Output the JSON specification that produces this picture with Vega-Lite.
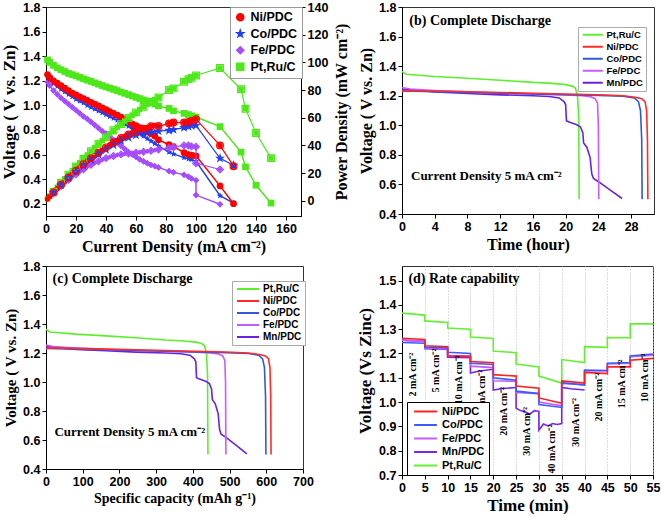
{
"$schema":"https://vega.github.io/schema/vega-lite/v6.json",
"padding":{"left":0,"top":0,"right":0,"bottom":0},
"background":"white",
"bounds":"flush",
"columns":2,
"spacing":{"row":50,"column":99},
"datasets":{
"pa":[
{"s":"Pt,Ru/C","I":1,"V":1.37,"P":1.4},{"s":"Pt,Ru/C","I":2.5,"V":1.35,"P":3.4},{"s":"Pt,Ru/C","I":5,"V":1.325,"P":6.6},{"s":"Pt,Ru/C","I":7.5,"V":1.305,"P":9.8},{"s":"Pt,Ru/C","I":10,"V":1.29,"P":12.9},{"s":"Pt,Ru/C","I":12.5,"V":1.275,"P":15.9},{"s":"Pt,Ru/C","I":15,"V":1.26,"P":18.9},{"s":"Pt,Ru/C","I":17.5,"V":1.25,"P":21.9},{"s":"Pt,Ru/C","I":20,"V":1.24,"P":24.8},{"s":"Pt,Ru/C","I":22.5,"V":1.228,"P":27.6},{"s":"Pt,Ru/C","I":25,"V":1.216,"P":30.4},{"s":"Pt,Ru/C","I":27.5,"V":1.205,"P":33.1},{"s":"Pt,Ru/C","I":30,"V":1.195,"P":35.9},{"s":"Pt,Ru/C","I":32.5,"V":1.183,"P":38.4},{"s":"Pt,Ru/C","I":35,"V":1.172,"P":41.0},{"s":"Pt,Ru/C","I":37.5,"V":1.161,"P":43.5},{"s":"Pt,Ru/C","I":40,"V":1.15,"P":46.0},{"s":"Pt,Ru/C","I":42.5,"V":1.14,"P":48.5},{"s":"Pt,Ru/C","I":45,"V":1.13,"P":50.9},{"s":"Pt,Ru/C","I":47.5,"V":1.12,"P":53.2},{"s":"Pt,Ru/C","I":50,"V":1.108,"P":55.4},{"s":"Pt,Ru/C","I":52.5,"V":1.098,"P":57.6},{"s":"Pt,Ru/C","I":55,"V":1.087,"P":59.8},{"s":"Pt,Ru/C","I":57.5,"V":1.076,"P":61.9},{"s":"Pt,Ru/C","I":60,"V":1.065,"P":63.9},{"s":"Pt,Ru/C","I":62.5,"V":1.055,"P":65.9},{"s":"Pt,Ru/C","I":65,"V":1.044,"P":67.9},{"s":"Pt,Ru/C","I":67.5,"V":1.033,"P":69.7},{"s":"Pt,Ru/C","I":70,"V":1.022,"P":71.5},{"s":"Pt,Ru/C","I":72.5,"V":1.01,"P":73.2},{"s":"Pt,Ru/C","I":75,"V":0.995,"P":74.6},{"s":"Pt,Ru/C","I":82,"V":0.975,"P":80.0},{"s":"Pt,Ru/C","I":85,"V":0.955,"P":81.2},{"s":"Pt,Ru/C","I":92,"V":0.935,"P":86.0},{"s":"Pt,Ru/C","I":95,"V":0.925,"P":87.9},{"s":"Pt,Ru/C","I":97,"V":0.915,"P":88.8},{"s":"Pt,Ru/C","I":100,"V":0.905,"P":90.5},{"s":"Pt,Ru/C","I":116,"V":0.827,"P":95.9},{"s":"Pt,Ru/C","I":130,"V":0.62,"P":80.6},{"s":"Pt,Ru/C","I":133,"V":0.5,"P":66.5},{"s":"Pt,Ru/C","I":140,"V":0.35,"P":49.0},{"s":"Pt,Ru/C","I":150,"V":0.205,"P":30.8},
{"s":"Fe/PDC","I":1,"V":1.19,"P":1.2},{"s":"Fe/PDC","I":2.5,"V":1.16,"P":2.9},{"s":"Fe/PDC","I":5,"V":1.12,"P":5.6},{"s":"Fe/PDC","I":7.5,"V":1.09,"P":8.2},{"s":"Fe/PDC","I":10,"V":1.06,"P":10.6},{"s":"Fe/PDC","I":12.5,"V":1.035,"P":12.9},{"s":"Fe/PDC","I":15,"V":1.01,"P":15.2},{"s":"Fe/PDC","I":17.5,"V":0.985,"P":17.2},{"s":"Fe/PDC","I":20,"V":0.96,"P":19.2},{"s":"Fe/PDC","I":22.5,"V":0.935,"P":21.0},{"s":"Fe/PDC","I":25,"V":0.91,"P":22.8},{"s":"Fe/PDC","I":27.5,"V":0.89,"P":24.5},{"s":"Fe/PDC","I":30,"V":0.865,"P":26.0},{"s":"Fe/PDC","I":32.5,"V":0.84,"P":27.3},{"s":"Fe/PDC","I":35,"V":0.815,"P":28.5},{"s":"Fe/PDC","I":37.5,"V":0.79,"P":29.6},{"s":"Fe/PDC","I":40,"V":0.77,"P":30.8},{"s":"Fe/PDC","I":42.5,"V":0.745,"P":31.7},{"s":"Fe/PDC","I":45,"V":0.72,"P":32.4},{"s":"Fe/PDC","I":47.5,"V":0.695,"P":33.0},{"s":"Fe/PDC","I":50,"V":0.67,"P":33.5},{"s":"Fe/PDC","I":52.5,"V":0.645,"P":33.9},{"s":"Fe/PDC","I":55,"V":0.62,"P":34.1},{"s":"Fe/PDC","I":57.5,"V":0.6,"P":34.5},{"s":"Fe/PDC","I":60,"V":0.58,"P":34.8},{"s":"Fe/PDC","I":62.5,"V":0.56,"P":35.0},{"s":"Fe/PDC","I":65,"V":0.545,"P":35.4},{"s":"Fe/PDC","I":67.5,"V":0.53,"P":35.8},{"s":"Fe/PDC","I":70,"V":0.515,"P":36.1},{"s":"Fe/PDC","I":72.5,"V":0.505,"P":36.6},{"s":"Fe/PDC","I":75,"V":0.495,"P":37.1},{"s":"Fe/PDC","I":82,"V":0.465,"P":38.1},{"s":"Fe/PDC","I":85,"V":0.455,"P":38.7},{"s":"Fe/PDC","I":92,"V":0.435,"P":40.0},{"s":"Fe/PDC","I":95,"V":0.42,"P":39.9},{"s":"Fe/PDC","I":97,"V":0.405,"P":39.3},{"s":"Fe/PDC","I":100,"V":0.39,"P":39.0},{"s":"Fe/PDC","I":100,"V":0.27,"P":27.0},{"s":"Fe/PDC","I":116,"V":0.195,"P":22.6},
{"s":"Co/PDC","I":1,"V":1.24,"P":1.2},{"s":"Co/PDC","I":2.5,"V":1.21,"P":3.0},{"s":"Co/PDC","I":5,"V":1.18,"P":5.9},{"s":"Co/PDC","I":7.5,"V":1.155,"P":8.7},{"s":"Co/PDC","I":10,"V":1.13,"P":11.3},{"s":"Co/PDC","I":12.5,"V":1.11,"P":13.9},{"s":"Co/PDC","I":15,"V":1.09,"P":16.4},{"s":"Co/PDC","I":17.5,"V":1.07,"P":18.7},{"s":"Co/PDC","I":20,"V":1.05,"P":21.0},{"s":"Co/PDC","I":22.5,"V":1.035,"P":23.3},{"s":"Co/PDC","I":25,"V":1.02,"P":25.5},{"s":"Co/PDC","I":27.5,"V":1.0,"P":27.5},{"s":"Co/PDC","I":30,"V":0.985,"P":29.6},{"s":"Co/PDC","I":32.5,"V":0.97,"P":31.5},{"s":"Co/PDC","I":35,"V":0.955,"P":33.4},{"s":"Co/PDC","I":37.5,"V":0.94,"P":35.3},{"s":"Co/PDC","I":40,"V":0.925,"P":37.0},{"s":"Co/PDC","I":42.5,"V":0.91,"P":38.7},{"s":"Co/PDC","I":45,"V":0.895,"P":40.3},{"s":"Co/PDC","I":47.5,"V":0.88,"P":41.8},{"s":"Co/PDC","I":50,"V":0.865,"P":43.3},{"s":"Co/PDC","I":52.5,"V":0.85,"P":44.6},{"s":"Co/PDC","I":55,"V":0.83,"P":45.7},{"s":"Co/PDC","I":57.5,"V":0.81,"P":46.6},{"s":"Co/PDC","I":60,"V":0.79,"P":47.4},{"s":"Co/PDC","I":62.5,"V":0.77,"P":48.1},{"s":"Co/PDC","I":65,"V":0.75,"P":48.8},{"s":"Co/PDC","I":67.5,"V":0.73,"P":49.3},{"s":"Co/PDC","I":70,"V":0.71,"P":49.7},{"s":"Co/PDC","I":72.5,"V":0.69,"P":50.0},{"s":"Co/PDC","I":75,"V":0.67,"P":50.3},{"s":"Co/PDC","I":82,"V":0.62,"P":50.8},{"s":"Co/PDC","I":85,"V":0.605,"P":51.4},{"s":"Co/PDC","I":92,"V":0.575,"P":52.9},{"s":"Co/PDC","I":95,"V":0.565,"P":53.7},{"s":"Co/PDC","I":97,"V":0.56,"P":54.3},{"s":"Co/PDC","I":100,"V":0.545,"P":54.5},{"s":"Co/PDC","I":116,"V":0.265,"P":30.7},{"s":"Co/PDC","I":125,"V":0.205,"P":25.6},
{"s":"Ni/PDC","I":1,"V":1.25,"P":1.3},{"s":"Ni/PDC","I":2.5,"V":1.225,"P":3.1},{"s":"Ni/PDC","I":5,"V":1.2,"P":6.0},{"s":"Ni/PDC","I":7.5,"V":1.18,"P":8.9},{"s":"Ni/PDC","I":10,"V":1.16,"P":11.6},{"s":"Ni/PDC","I":12.5,"V":1.14,"P":14.3},{"s":"Ni/PDC","I":15,"V":1.12,"P":16.8},{"s":"Ni/PDC","I":17.5,"V":1.1,"P":19.3},{"s":"Ni/PDC","I":20,"V":1.085,"P":21.7},{"s":"Ni/PDC","I":22.5,"V":1.07,"P":24.1},{"s":"Ni/PDC","I":25,"V":1.055,"P":26.4},{"s":"Ni/PDC","I":27.5,"V":1.04,"P":28.6},{"s":"Ni/PDC","I":30,"V":1.025,"P":30.8},{"s":"Ni/PDC","I":32.5,"V":1.01,"P":32.8},{"s":"Ni/PDC","I":35,"V":0.995,"P":34.8},{"s":"Ni/PDC","I":37.5,"V":0.98,"P":36.8},{"s":"Ni/PDC","I":40,"V":0.965,"P":38.6},{"s":"Ni/PDC","I":42.5,"V":0.95,"P":40.4},{"s":"Ni/PDC","I":45,"V":0.935,"P":42.1},{"s":"Ni/PDC","I":47.5,"V":0.92,"P":43.7},{"s":"Ni/PDC","I":50,"V":0.905,"P":45.3},{"s":"Ni/PDC","I":52.5,"V":0.89,"P":46.7},{"s":"Ni/PDC","I":55,"V":0.87,"P":47.9},{"s":"Ni/PDC","I":57.5,"V":0.85,"P":48.9},{"s":"Ni/PDC","I":60,"V":0.835,"P":50.1},{"s":"Ni/PDC","I":62.5,"V":0.82,"P":51.3},{"s":"Ni/PDC","I":65,"V":0.8,"P":52.0},{"s":"Ni/PDC","I":67.5,"V":0.785,"P":53.0},{"s":"Ni/PDC","I":70,"V":0.77,"P":53.9},{"s":"Ni/PDC","I":72.5,"V":0.75,"P":54.4},{"s":"Ni/PDC","I":75,"V":0.72,"P":54.0},{"s":"Ni/PDC","I":82,"V":0.68,"P":55.8},{"s":"Ni/PDC","I":85,"V":0.665,"P":56.5},{"s":"Ni/PDC","I":92,"V":0.615,"P":56.6},{"s":"Ni/PDC","I":95,"V":0.6,"P":57.0},{"s":"Ni/PDC","I":97,"V":0.595,"P":57.7},{"s":"Ni/PDC","I":100,"V":0.59,"P":59.0},{"s":"Ni/PDC","I":116,"V":0.345,"P":40.0},{"s":"Ni/PDC","I":125,"V":0.2,"P":25.0}
],
"pb":[
{"s":"Pt,Ru/C","h":0,"V":1.365},{"s":"Pt,Ru/C","h":0.5,"V":1.345},{"s":"Pt,Ru/C","h":4,"V":1.33},{"s":"Pt,Ru/C","h":8,"V":1.318},{"s":"Pt,Ru/C","h":12,"V":1.305},{"s":"Pt,Ru/C","h":16,"V":1.29},{"s":"Pt,Ru/C","h":18,"V":1.285},{"s":"Pt,Ru/C","h":20,"V":1.275},{"s":"Pt,Ru/C","h":20.8,"V":1.265},{"s":"Pt,Ru/C","h":21.2,"V":1.25},{"s":"Pt,Ru/C","h":21.45,"V":1.2},{"s":"Pt,Ru/C","h":21.6,"V":1.05},{"s":"Pt,Ru/C","h":21.65,"V":0.5},
{"s":"Mn/PDC","h":0,"V":1.245},{"s":"Mn/PDC","h":2,"V":1.235},{"s":"Mn/PDC","h":4,"V":1.225},{"s":"Mn/PDC","h":8,"V":1.215},{"s":"Mn/PDC","h":12,"V":1.206},{"s":"Mn/PDC","h":16,"V":1.2},{"s":"Mn/PDC","h":18,"V":1.195},{"s":"Mn/PDC","h":19.2,"V":1.185},{"s":"Mn/PDC","h":19.8,"V":1.16},{"s":"Mn/PDC","h":20.0,"V":1.14},{"s":"Mn/PDC","h":20.1,"V":1.03},{"s":"Mn/PDC","h":20.5,"V":1.02},{"s":"Mn/PDC","h":21.3,"V":1.005},{"s":"Mn/PDC","h":21.8,"V":0.99},{"s":"Mn/PDC","h":22.1,"V":0.95},{"s":"Mn/PDC","h":22.2,"V":0.88},{"s":"Mn/PDC","h":22.6,"V":0.85},{"s":"Mn/PDC","h":23.0,"V":0.78},{"s":"Mn/PDC","h":23.1,"V":0.72},{"s":"Mn/PDC","h":23.2,"V":0.67},{"s":"Mn/PDC","h":23.4,"V":0.64},{"s":"Mn/PDC","h":24.1,"V":0.615},{"s":"Mn/PDC","h":25.5,"V":0.56},{"s":"Mn/PDC","h":26.9,"V":0.505},
{"s":"Fe/PDC","h":0,"V":1.255},{"s":"Fe/PDC","h":1,"V":1.245},{"s":"Fe/PDC","h":4,"V":1.235},{"s":"Fe/PDC","h":8,"V":1.226},{"s":"Fe/PDC","h":12,"V":1.218},{"s":"Fe/PDC","h":16,"V":1.212},{"s":"Fe/PDC","h":20,"V":1.206},{"s":"Fe/PDC","h":22,"V":1.2},{"s":"Fe/PDC","h":23,"V":1.194},{"s":"Fe/PDC","h":23.6,"V":1.18},{"s":"Fe/PDC","h":23.9,"V":1.15},{"s":"Fe/PDC","h":24.0,"V":1.0},{"s":"Fe/PDC","h":24.05,"V":0.5},
{"s":"Co/PDC","h":0,"V":1.232},{"s":"Co/PDC","h":4,"V":1.227},{"s":"Co/PDC","h":8,"V":1.222},{"s":"Co/PDC","h":12,"V":1.217},{"s":"Co/PDC","h":16,"V":1.212},{"s":"Co/PDC","h":20,"V":1.207},{"s":"Co/PDC","h":24,"V":1.202},{"s":"Co/PDC","h":27,"V":1.197},{"s":"Co/PDC","h":28.4,"V":1.185},{"s":"Co/PDC","h":28.9,"V":1.16},{"s":"Co/PDC","h":29.15,"V":1.1},{"s":"Co/PDC","h":29.3,"V":0.9},{"s":"Co/PDC","h":29.35,"V":0.5},
{"s":"Ni/PDC","h":0,"V":1.225},{"s":"Ni/PDC","h":0.3,"V":1.235},{"s":"Ni/PDC","h":4,"V":1.232},{"s":"Ni/PDC","h":8,"V":1.227},{"s":"Ni/PDC","h":12,"V":1.222},{"s":"Ni/PDC","h":16,"V":1.217},{"s":"Ni/PDC","h":20,"V":1.212},{"s":"Ni/PDC","h":24,"V":1.207},{"s":"Ni/PDC","h":27,"V":1.2},{"s":"Ni/PDC","h":28.5,"V":1.19},{"s":"Ni/PDC","h":29.3,"V":1.18},{"s":"Ni/PDC","h":29.7,"V":1.16},{"s":"Ni/PDC","h":29.9,"V":1.1},{"s":"Ni/PDC","h":30.0,"V":0.9},{"s":"Ni/PDC","h":30.05,"V":0.5}
],
"pc":[
{"s":"Pt,Ru/C","c":0,"V":1.365},{"s":"Pt,Ru/C","c":10,"V":1.345},{"s":"Pt,Ru/C","c":82,"V":1.33},{"s":"Pt,Ru/C","c":163,"V":1.318},{"s":"Pt,Ru/C","c":245,"V":1.305},{"s":"Pt,Ru/C","c":326,"V":1.29},{"s":"Pt,Ru/C","c":367,"V":1.285},{"s":"Pt,Ru/C","c":408,"V":1.275},{"s":"Pt,Ru/C","c":424,"V":1.265},{"s":"Pt,Ru/C","c":432,"V":1.25},{"s":"Pt,Ru/C","c":437,"V":1.2},{"s":"Pt,Ru/C","c":440,"V":1.05},{"s":"Pt,Ru/C","c":441,"V":0.5},
{"s":"Mn/PDC","c":0,"V":1.245},{"s":"Mn/PDC","c":41,"V":1.235},{"s":"Mn/PDC","c":82,"V":1.225},{"s":"Mn/PDC","c":163,"V":1.215},{"s":"Mn/PDC","c":245,"V":1.206},{"s":"Mn/PDC","c":326,"V":1.2},{"s":"Mn/PDC","c":367,"V":1.195},{"s":"Mn/PDC","c":392,"V":1.185},{"s":"Mn/PDC","c":404,"V":1.16},{"s":"Mn/PDC","c":408,"V":1.14},{"s":"Mn/PDC","c":410,"V":1.03},{"s":"Mn/PDC","c":418,"V":1.02},{"s":"Mn/PDC","c":435,"V":1.005},{"s":"Mn/PDC","c":445,"V":0.99},{"s":"Mn/PDC","c":451,"V":0.95},{"s":"Mn/PDC","c":453,"V":0.88},{"s":"Mn/PDC","c":461,"V":0.85},{"s":"Mn/PDC","c":469,"V":0.78},{"s":"Mn/PDC","c":471,"V":0.72},{"s":"Mn/PDC","c":473,"V":0.67},{"s":"Mn/PDC","c":477,"V":0.64},{"s":"Mn/PDC","c":492,"V":0.615},{"s":"Mn/PDC","c":520,"V":0.56},{"s":"Mn/PDC","c":547,"V":0.505},
{"s":"Fe/PDC","c":0,"V":1.255},{"s":"Fe/PDC","c":20,"V":1.245},{"s":"Fe/PDC","c":82,"V":1.235},{"s":"Fe/PDC","c":163,"V":1.226},{"s":"Fe/PDC","c":245,"V":1.218},{"s":"Fe/PDC","c":326,"V":1.212},{"s":"Fe/PDC","c":408,"V":1.206},{"s":"Fe/PDC","c":449,"V":1.2},{"s":"Fe/PDC","c":469,"V":1.194},{"s":"Fe/PDC","c":481,"V":1.18},{"s":"Fe/PDC","c":487,"V":1.15},{"s":"Fe/PDC","c":489,"V":1.0},{"s":"Fe/PDC","c":490,"V":0.5},
{"s":"Co/PDC","c":0,"V":1.232},{"s":"Co/PDC","c":82,"V":1.227},{"s":"Co/PDC","c":163,"V":1.222},{"s":"Co/PDC","c":245,"V":1.217},{"s":"Co/PDC","c":326,"V":1.212},{"s":"Co/PDC","c":408,"V":1.207},{"s":"Co/PDC","c":490,"V":1.202},{"s":"Co/PDC","c":551,"V":1.197},{"s":"Co/PDC","c":579,"V":1.185},{"s":"Co/PDC","c":590,"V":1.16},{"s":"Co/PDC","c":595,"V":1.1},{"s":"Co/PDC","c":598,"V":0.9},{"s":"Co/PDC","c":599,"V":0.5},
{"s":"Ni/PDC","c":0,"V":1.225},{"s":"Ni/PDC","c":6,"V":1.235},{"s":"Ni/PDC","c":82,"V":1.232},{"s":"Ni/PDC","c":163,"V":1.227},{"s":"Ni/PDC","c":245,"V":1.222},{"s":"Ni/PDC","c":326,"V":1.217},{"s":"Ni/PDC","c":408,"V":1.212},{"s":"Ni/PDC","c":490,"V":1.207},{"s":"Ni/PDC","c":551,"V":1.2},{"s":"Ni/PDC","c":581,"V":1.19},{"s":"Ni/PDC","c":598,"V":1.18},{"s":"Ni/PDC","c":606,"V":1.16},{"s":"Ni/PDC","c":610,"V":1.1},{"s":"Ni/PDC","c":612,"V":0.9},{"s":"Ni/PDC","c":613,"V":0.5}
],
"pd":[
{"s":"Pt,Ru/C","k":0,"t":0,"V":1.366},{"s":"Pt,Ru/C","k":1,"t":5,"V":1.358},{"s":"Pt,Ru/C","k":2,"t":5,"V":1.334},{"s":"Pt,Ru/C","k":3,"t":10,"V":1.328},{"s":"Pt,Ru/C","k":4,"t":10,"V":1.305},{"s":"Pt,Ru/C","k":5,"t":15,"V":1.3},{"s":"Pt,Ru/C","k":6,"t":15,"V":1.268},{"s":"Pt,Ru/C","k":7,"t":20,"V":1.262},{"s":"Pt,Ru/C","k":8,"t":20,"V":1.21},{"s":"Pt,Ru/C","k":9,"t":25,"V":1.203},{"s":"Pt,Ru/C","k":10,"t":25,"V":1.157},{"s":"Pt,Ru/C","k":11,"t":30,"V":1.145},{"s":"Pt,Ru/C","k":12,"t":30,"V":1.107},{"s":"Pt,Ru/C","k":13,"t":35,"V":1.078},{"s":"Pt,Ru/C","k":14,"t":35,"V":1.175},{"s":"Pt,Ru/C","k":15,"t":40,"V":1.163},{"s":"Pt,Ru/C","k":16,"t":40,"V":1.228},{"s":"Pt,Ru/C","k":17,"t":45,"V":1.225},{"s":"Pt,Ru/C","k":18,"t":45,"V":1.266},{"s":"Pt,Ru/C","k":19,"t":50,"V":1.265},{"s":"Pt,Ru/C","k":20,"t":50,"V":1.322},{"s":"Pt,Ru/C","k":21,"t":55,"V":1.322},
{"s":"Mn/PDC","k":0,"t":0,"V":1.255},{"s":"Mn/PDC","k":1,"t":5,"V":1.25},{"s":"Mn/PDC","k":2,"t":5,"V":1.22},{"s":"Mn/PDC","k":3,"t":10,"V":1.218},{"s":"Mn/PDC","k":4,"t":10,"V":1.185},{"s":"Mn/PDC","k":5,"t":15,"V":1.183},{"s":"Mn/PDC","k":6,"t":15,"V":1.12},{"s":"Mn/PDC","k":7,"t":17,"V":1.128},{"s":"Mn/PDC","k":8,"t":20,"V":1.135},{"s":"Mn/PDC","k":9,"t":20,"V":1.05},{"s":"Mn/PDC","k":10,"t":22,"V":1.056},{"s":"Mn/PDC","k":11,"t":25,"V":1.06},{"s":"Mn/PDC","k":12,"t":25,"V":0.975},{"s":"Mn/PDC","k":13,"t":26,"V":0.965},{"s":"Mn/PDC","k":14,"t":27,"V":0.96},{"s":"Mn/PDC","k":15,"t":28,"V":0.95},{"s":"Mn/PDC","k":16,"t":29,"V":0.965},{"s":"Mn/PDC","k":17,"t":30,"V":0.962},{"s":"Mn/PDC","k":18,"t":30,"V":0.885},{"s":"Mn/PDC","k":19,"t":31,"V":0.91},{"s":"Mn/PDC","k":20,"t":32,"V":0.902},{"s":"Mn/PDC","k":21,"t":33,"V":0.912},{"s":"Mn/PDC","k":22,"t":34,"V":0.908},{"s":"Mn/PDC","k":23,"t":35,"V":0.912},{"s":"Mn/PDC","k":24,"t":35,"V":1.06},{"s":"Mn/PDC","k":25,"t":37,"V":1.055},{"s":"Mn/PDC","k":26,"t":40,"V":1.05},
{"s":"Fe/PDC","k":0,"t":0,"V":1.255},{"s":"Fe/PDC","k":1,"t":5,"V":1.25},{"s":"Fe/PDC","k":2,"t":5,"V":1.222},{"s":"Fe/PDC","k":3,"t":10,"V":1.22},{"s":"Fe/PDC","k":4,"t":10,"V":1.19},{"s":"Fe/PDC","k":5,"t":15,"V":1.188},{"s":"Fe/PDC","k":6,"t":15,"V":1.148},{"s":"Fe/PDC","k":7,"t":20,"V":1.142},{"s":"Fe/PDC","k":8,"t":20,"V":1.088},{"s":"Fe/PDC","k":9,"t":25,"V":1.085},{"s":"Fe/PDC","k":10,"t":25,"V":1.04},{"s":"Fe/PDC","k":11,"t":30,"V":1.035},{"s":"Fe/PDC","k":12,"t":30,"V":1.0},{"s":"Fe/PDC","k":13,"t":35,"V":0.985},{"s":"Fe/PDC","k":14,"t":35,"V":1.077},{"s":"Fe/PDC","k":15,"t":40,"V":1.072},{"s":"Fe/PDC","k":16,"t":40,"V":1.128},{"s":"Fe/PDC","k":17,"t":45,"V":1.128},{"s":"Fe/PDC","k":18,"t":45,"V":1.157},{"s":"Fe/PDC","k":19,"t":50,"V":1.16},{"s":"Fe/PDC","k":20,"t":50,"V":1.187},{"s":"Fe/PDC","k":21,"t":55,"V":1.193},
{"s":"Co/PDC","k":0,"t":0,"V":1.245},{"s":"Co/PDC","k":1,"t":5,"V":1.242},{"s":"Co/PDC","k":2,"t":5,"V":1.225},{"s":"Co/PDC","k":3,"t":10,"V":1.225},{"s":"Co/PDC","k":4,"t":10,"V":1.205},{"s":"Co/PDC","k":5,"t":15,"V":1.2},{"s":"Co/PDC","k":6,"t":15,"V":1.16},{"s":"Co/PDC","k":7,"t":20,"V":1.155},{"s":"Co/PDC","k":8,"t":20,"V":1.1},{"s":"Co/PDC","k":9,"t":25,"V":1.09},{"s":"Co/PDC","k":10,"t":25,"V":1.045},{"s":"Co/PDC","k":11,"t":30,"V":1.035},{"s":"Co/PDC","k":12,"t":30,"V":0.99},{"s":"Co/PDC","k":13,"t":35,"V":0.978},{"s":"Co/PDC","k":14,"t":35,"V":1.08},{"s":"Co/PDC","k":15,"t":40,"V":1.07},{"s":"Co/PDC","k":16,"t":40,"V":1.132},{"s":"Co/PDC","k":17,"t":45,"V":1.13},{"s":"Co/PDC","k":18,"t":45,"V":1.16},{"s":"Co/PDC","k":19,"t":50,"V":1.163},{"s":"Co/PDC","k":20,"t":50,"V":1.19},{"s":"Co/PDC","k":21,"t":55,"V":1.198},
{"s":"Ni/PDC","k":0,"t":0,"V":1.263},{"s":"Ni/PDC","k":1,"t":5,"V":1.258},{"s":"Ni/PDC","k":2,"t":5,"V":1.232},{"s":"Ni/PDC","k":3,"t":10,"V":1.228},{"s":"Ni/PDC","k":4,"t":10,"V":1.19},{"s":"Ni/PDC","k":5,"t":15,"V":1.188},{"s":"Ni/PDC","k":6,"t":15,"V":1.167},{"s":"Ni/PDC","k":7,"t":20,"V":1.162},{"s":"Ni/PDC","k":8,"t":20,"V":1.113},{"s":"Ni/PDC","k":9,"t":25,"V":1.107},{"s":"Ni/PDC","k":10,"t":25,"V":1.066},{"s":"Ni/PDC","k":11,"t":30,"V":1.057},{"s":"Ni/PDC","k":12,"t":30,"V":1.017},{"s":"Ni/PDC","k":13,"t":35,"V":0.995},{"s":"Ni/PDC","k":14,"t":35,"V":1.087},{"s":"Ni/PDC","k":15,"t":40,"V":1.078},{"s":"Ni/PDC","k":16,"t":40,"V":1.122},{"s":"Ni/PDC","k":17,"t":45,"V":1.117},{"s":"Ni/PDC","k":18,"t":45,"V":1.145},{"s":"Ni/PDC","k":19,"t":50,"V":1.145},{"s":"Ni/PDC","k":20,"t":50,"V":1.172},{"s":"Ni/PDC","k":21,"t":55,"V":1.18}
],
"pdl":[
{"t":2.4,"v":1.113,"txt":"2 mA cm⁻²"},{"t":7.5,"v":1.13,"txt":"5 mA cm⁻²"},{"t":12.4,"v":1.092,"txt":"10 mA cm⁻²"},{"t":17.5,"v":1.033,"txt":"15 mA cm⁻²"},{"t":22.4,"v":0.962,"txt":"20 mA cm⁻²"},{"t":27.3,"v":0.88,"txt":"30 mA cm⁻²"},{"t":32.8,"v":0.807,"txt":"40 mA cm⁻²"},{"t":38.1,"v":0.917,"txt":"30 mA cm⁻²"},{"t":43.2,"v":1.02,"txt":"20 mA cm⁻²"},{"t":48.3,"v":1.075,"txt":"15 mA cm⁻²"},{"t":53.2,"v":1.1,"txt":"10 mA cm⁻²"}
]
},
"concat":[
{
"width":255,"height":209,
"layer":[
{"data":{"name":"pa"},
 "encoding":{
  "x":{"field":"I","type":"quantitative","scale":{"domain":[0,170],"nice":false,"zero":false},"axis":{"values":[0,20,40,60,80,100,120,140,160],"labelOverlap":false,"title":"Current Density (mA cm⁻²)","titleFontSize":16}},
  "y":{"field":"V","type":"quantitative","scale":{"domain":[0.1,1.8],"nice":false,"zero":false},"axis":{"values":[0.2,0.4,0.6,0.8,1.0,1.2,1.4,1.6,1.8],"labelOverlap":false,"format":".1f","title":"Voltage ( V vs. Zn)","titleFontSize":17}},
  "color":{"field":"s","type":"nominal","scale":{"domain":["Ni/PDC","Co/PDC","Fe/PDC","Pt,Ru/C"],"range":["#ff0000","#1f3ff0","#a54cff","#4ee81a"]},"legend":{"orient":"none","legendX":184,"legendY":0,"title":null,"labelFontSize":12.5,"rowPadding":2.5,"padding":4,"strokeColor":"#999","fillColor":"#fff","symbolSize":50}},
  "shape":{"field":"s","type":"nominal","scale":{"domain":["Ni/PDC","Co/PDC","Fe/PDC","Pt,Ru/C"],"range":["circle","M0,-1L0.235,-0.324L0.951,-0.309L0.38,0.124L0.588,0.809L0,0.4L-0.588,0.809L-0.38,0.124L-0.951,-0.309L-0.235,-0.324Z","diamond","square"]},"legend":{"orient":"none","legendX":184,"legendY":0,"title":null,"labelFontSize":12.5,"rowPadding":2.5,"padding":4,"strokeColor":"#999","fillColor":"#fff","symbolSize":50}}
 },
 "layer":[
  {"mark":{"type":"line","strokeWidth":1.5}},
  {"mark":{"type":"point","filled":true,"size":45,"opacity":1}},
  {"data":{"values":[{}]},
   "mark":{"type":"text","align":"left","baseline":"middle","font":"Liberation Serif","fontWeight":"bold","fontSize":14},
   "encoding":{"x":{"datum":4},"y":{"datum":1.703},"text":{"value":"(a)"},"color":{"value":"#000"}}},
  {"data":{"values":[{}]},
   "mark":{"type":"text","align":"left","baseline":"middle","font":"Liberation Sans","fontWeight":"bold","fontSize":13.5},
   "encoding":{"x":{"datum":14.5},"y":{"datum":1.703},"text":{"value":"Polarization studies"},"color":{"value":"#000"}}}
 ]
},
{"data":{"name":"pa"},
 "encoding":{
  "x":{"field":"I","type":"quantitative","axis":{"values":[0,20,40,60,80,100,120,140,160],"labelOverlap":false,"title":"Current Density (mA cm⁻²)","titleFontSize":16}},
  "y":{"field":"P","type":"quantitative","scale":{"domain":[-11,140],"nice":false,"zero":false},"axis":{"orient":"right","values":[0,20,40,60,80,100,120,140],"labelOverlap":false,"title":"Power Density (mW cm⁻²)","titleAngle":270,"titlePadding":22,"titleFontSize":16}},
  "color":{"field":"s","type":"nominal"},
  "shape":{"field":"s","type":"nominal"}
 },
 "layer":[
  {"mark":{"type":"line","strokeWidth":1.2}},
  {"transform":[{"filter":"datum.I % 5 == 0 || datum.I > 76"}],"mark":{"type":"point","filled":false,"size":45,"strokeWidth":1.2,"opacity":1}}
 ]
}
],
"resolve":{"scale":{"y":"independent"}}
},
{
"width":252,"height":207,
"layer":[
{"data":{"name":"pb"},
 "mark":{"type":"line","strokeWidth":1.6},
 "encoding":{
  "x":{"field":"h","type":"quantitative","scale":{"domain":[0,30.8],"nice":false,"zero":false},"axis":{"values":[0,4,8,12,16,20,24,28],"labelOverlap":false,"title":"Time (hour)","titleFontSize":16}},
  "y":{"field":"V","type":"quantitative","scale":{"domain":[0.4,1.8],"nice":false,"zero":false},"axis":{"values":[0.4,0.6,0.8,1.0,1.2,1.4,1.6,1.8],"labelOverlap":false,"format":".1f","title":"Voltage ( V vs. Zn)","titleFontSize":16}},
  "color":{"field":"s","type":"nominal","scale":{"domain":["Pt,Ru/C","Ni/PDC","Co/PDC","Fe/PDC","Mn/PDC"],"range":["#5cf02c","#ff2a2a","#2f5ad8","#c65cff","#6b22e0"]},"legend":{"orient":"none","legendX":176,"legendY":20,"title":null,"symbolType":"M-4,0H4","symbolSize":25,"symbolStrokeWidth":2,"symbolOffset":7,"labelOffset":9,"labelFontSize":9.5,"rowPadding":1,"padding":3,"strokeColor":"#aaa","fillColor":"#fff"}}
 }},
{"data":{"values":[{}]},
 "mark":{"type":"text","align":"left","baseline":"middle","font":"Liberation Serif","fontWeight":"bold","fontSize":14},
 "encoding":{"x":{"datum":0.9,"type":"quantitative","axis":{"values":[0,4,8,12,16,20,24,28],"labelOverlap":false,"title":"Time (hour)","titleFontSize":16}},"y":{"datum":1.708,"type":"quantitative","axis":{"values":[0.4,0.6,0.8,1.0,1.2,1.4,1.6,1.8],"labelOverlap":false,"format":".1f","title":"Voltage ( V vs. Zn)","titleFontSize":16}},"text":{"value":"(b)  Complete Discharge"}}},
{"data":{"values":[{}]},
 "mark":{"type":"text","align":"left","baseline":"middle","font":"Liberation Serif","fontWeight":"bold","fontSize":13},
 "encoding":{"x":{"datum":1.1,"type":"quantitative","axis":{"values":[0,4,8,12,16,20,24,28],"labelOverlap":false,"title":"Time (hour)","titleFontSize":16}},"y":{"datum":0.654,"type":"quantitative","axis":{"values":[0.4,0.6,0.8,1.0,1.2,1.4,1.6,1.8],"labelOverlap":false,"format":".1f","title":"Voltage ( V vs. Zn)","titleFontSize":16}},"text":{"value":"Current Density 5 mA cm⁻²"}}}
]
},
{
"width":257,"height":203,
"layer":[
{"data":{"name":"pc"},
 "mark":{"type":"line","strokeWidth":1.6},
 "encoding":{
  "x":{"field":"c","type":"quantitative","scale":{"domain":[0,700],"nice":false,"zero":false},"axis":{"values":[0,100,200,300,400,500,600,700],"labelOverlap":false,"title":"Specific capacity (mAh g⁻¹)","titleFontSize":14}},
  "y":{"field":"V","type":"quantitative","scale":{"domain":[0.4,1.8],"nice":false,"zero":false},"axis":{"values":[0.4,0.6,0.8,1.0,1.2,1.4,1.6,1.8],"labelOverlap":false,"format":".1f","title":"Voltage ( V vs. Zn)","titleFontSize":15}},
  "color":{"field":"s","type":"nominal","scale":{"domain":["Pt,Ru/C","Ni/PDC","Co/PDC","Fe/PDC","Mn/PDC"],"range":["#5cf02c","#ff2a2a","#2f5ad8","#c65cff","#6b22e0"]},"legend":{"orient":"none","legendX":186,"legendY":15,"title":null,"symbolType":"M-4.4,0H4.4","symbolSize":25,"symbolStrokeWidth":2,"symbolOffset":8,"labelOffset":10,"labelFontSize":10,"rowPadding":2,"padding":3,"strokeColor":"#aaa","fillColor":"#fff"}}
 }},
{"data":{"values":[{}]},
 "mark":{"type":"text","align":"left","baseline":"middle","font":"Liberation Serif","fontWeight":"bold","fontSize":14},
 "encoding":{"x":{"datum":18,"type":"quantitative","axis":{"values":[0,100,200,300,400,500,600,700],"labelOverlap":false,"title":"Specific capacity (mAh g⁻¹)","titleFontSize":14}},"y":{"datum":1.708,"type":"quantitative","axis":{"values":[0.4,0.6,0.8,1.0,1.2,1.4,1.6,1.8],"labelOverlap":false,"format":".1f","title":"Voltage ( V vs. Zn)","titleFontSize":15}},"text":{"value":"(c)  Complete Discharge"}}},
{"data":{"values":[{}]},
 "mark":{"type":"text","align":"left","baseline":"middle","font":"Liberation Serif","fontWeight":"bold","fontSize":13},
 "encoding":{"x":{"datum":23,"type":"quantitative","axis":{"values":[0,100,200,300,400,500,600,700],"labelOverlap":false,"title":"Specific capacity (mAh g⁻¹)","titleFontSize":14}},"y":{"datum":0.657,"type":"quantitative","axis":{"values":[0.4,0.6,0.8,1.0,1.2,1.4,1.6,1.8],"labelOverlap":false,"format":".1f","title":"Voltage ( V vs. Zn)","titleFontSize":15}},"text":{"value":"Current Density 5 mA cm⁻²"}}}
]
},
{
"width":251,"height":209,
"layer":[
{"data":{"name":"pd"},
 "mark":{"type":"line","strokeWidth":1.6},
 "encoding":{
  "x":{"field":"t","type":"quantitative","scale":{"domain":[0,55],"nice":false,"zero":false},"axis":{"values":[0,5,10,15,20,25,30,35,40,45,50,55],"labelOverlap":false,"title":"Time (min)","titleFontSize":17,"grid":true,"gridDash":[1,2],"gridColor":"#bbb"}},
  "y":{"field":"V","type":"quantitative","scale":{"domain":[0.7,1.56],"nice":false,"zero":false},"axis":{"values":[0.7,0.8,0.9,1.0,1.1,1.2,1.3,1.4,1.5],"labelOverlap":false,"format":".1f","title":"Voltage (Vs Zinc)","titleFontSize":17}},
  "order":{"field":"k","type":"quantitative"},
  "color":{"field":"s","type":"nominal","scale":{"domain":["Ni/PDC","Co/PDC","Fe/PDC","Mn/PDC","Pt,Ru/C"],"range":["#ff2020","#3a5cff","#c25cff","#7a22ee","#66ee33"]},"legend":{"orient":"none","legendX":5,"legendY":136,"title":null,"symbolType":"M-3.8,0H3.8","symbolSize":36,"symbolStrokeWidth":2,"symbolOffset":9,"labelOffset":11,"labelFontSize":11,"rowPadding":1.5,"padding":4,"strokeColor":"#000","fillColor":"#fff"}}
 }},
{"data":{"name":"pdl"},
 "mark":{"type":"text","angle":270,"align":"center","baseline":"middle","font":"Liberation Serif","fontWeight":"bold","fontSize":10},
 "encoding":{"x":{"field":"t","type":"quantitative","axis":{"values":[0,5,10,15,20,25,30,35,40,45,50,55],"labelOverlap":false,"title":"Time (min)","titleFontSize":17,"grid":true,"gridDash":[1,2],"gridColor":"#bbb"}},"y":{"field":"v","type":"quantitative","axis":{"values":[0.7,0.8,0.9,1.0,1.1,1.2,1.3,1.4,1.5],"labelOverlap":false,"format":".1f","title":"Voltage (Vs Zinc)","titleFontSize":17}},"text":{"field":"txt"}}},
{"data":{"values":[{}]},
 "mark":{"type":"text","align":"left","baseline":"middle","font":"Liberation Serif","fontWeight":"bold","fontSize":14},
 "encoding":{"x":{"datum":1.4,"type":"quantitative","axis":{"values":[0,5,10,15,20,25,30,35,40,45,50,55],"labelOverlap":false,"title":"Time (min)","titleFontSize":17,"grid":true,"gridDash":[1,2],"gridColor":"#bbb"}},"y":{"datum":1.507,"type":"quantitative","axis":{"values":[0.7,0.8,0.9,1.0,1.1,1.2,1.3,1.4,1.5],"labelOverlap":false,"format":".1f","title":"Voltage (Vs Zinc)","titleFontSize":17}},"text":{"value":"(d) Rate capability"}}}
]
}
],
"resolve":{"scale":{"color":"independent","shape":"independent"},"legend":{"color":"independent","shape":"independent"}},
"config":{
"font":"Liberation Sans",
"view":{"stroke":"#333","strokeWidth":1},
"axis":{"labelFont":"Liberation Sans","labelFontWeight":"bold","labelFontSize":12.5,"labelColor":"#000","titleFont":"Liberation Serif","titleFontWeight":"bold","titleFontSize":16,"titleColor":"#000","domainColor":"#000","domainWidth":1,"tickColor":"#000","tickSize":4,"grid":false,"labelPadding":2,"titlePadding":4,"labelFlush":false,"labelOverlap":false},
"legend":{"labelFont":"Liberation Sans","labelFontWeight":"bold","labelColor":"#000"}
}
}
